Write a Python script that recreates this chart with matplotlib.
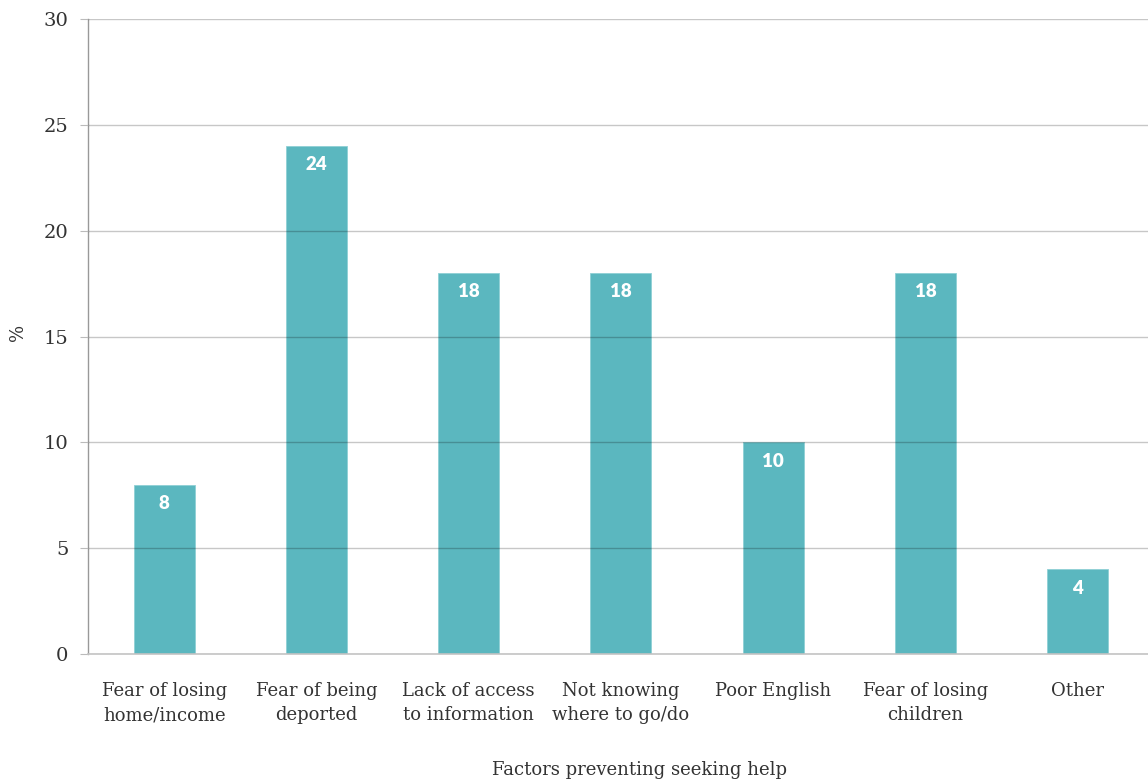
import matplotlib
matplotlib.use("Agg")
import matplotlib.pyplot as plt

categories = [
    "Fear of losing\nhome/income",
    "Fear of being\ndeported",
    "Lack of access\nto information",
    "Not knowing\nwhere to go/do",
    "Poor English",
    "Fear of losing\nchildren",
    "Other",
]
values = [8, 24, 18, 18, 10, 18, 4]
y_ticks = [0, 5, 10, 15, 20, 25, 30]

BAR = "#5bb7bf"
TEXT = "#333333"

plt.rcParams["font.family"] = ["DejaVu Serif"]

fig = plt.figure(figsize=(11.48, 7.83), dpi=100)
W, H = 1148, 783
ax = fig.add_axes([88 / W, 1 - 654 / H, (1153.75 - 88) / W, (654 - 19) / H])

x = list(range(len(categories)))
bars = ax.bar(x, values, width=0.4, color=BAR, edgecolor="#8fd0d5", linewidth=0.6, zorder=2)
for rect, v in zip(bars, values):
    ax.annotate(str(v), (rect.get_x() + rect.get_width() / 2, v), xytext=(0, -13.5),
                textcoords="offset points", ha="center", va="center",
                color="white", fontweight="heavy", fontsize=13.5, family=["Lato", "DejaVu Sans"], zorder=4)

ax.set_xlim(-0.5, 6.5)
ax.set_ylim(0, 30)
ax.set_yticks(y_ticks)
ax.set_yticklabels([str(t) for t in y_ticks], fontsize=14, color=TEXT)
ax.set_xticks(x)
ax.set_xticklabels(categories, fontsize=13, color=TEXT, linespacing=1.45)
ax.tick_params(axis="x", length=0, pad=20)
ax.tick_params(axis="y", length=6, color="#bbbbbb", pad=8)
ax.grid(axis="y", color="black", alpha=0.22, linewidth=1, zorder=3)
ax.axhline(0, color="#c4c4c4", linewidth=1.2, clip_on=False, zorder=3)
ax.set_axisbelow(False)
for side in ["top", "right", "bottom"]:
    ax.spines[side].set_visible(False)
ax.spines["left"].set_color("#999999")
ax.spines["left"].set_linewidth(1)

fig.text(18 / W, 1 - 332 / H, "%", rotation=90, ha="center", va="center", fontsize=13, color=TEXT)
fig.text(640 / W, 1 - 770 / H, "Factors preventing seeking help", ha="center", va="center",
         fontsize=13, color=TEXT)

fig.savefig("out.png", dpi=100)
